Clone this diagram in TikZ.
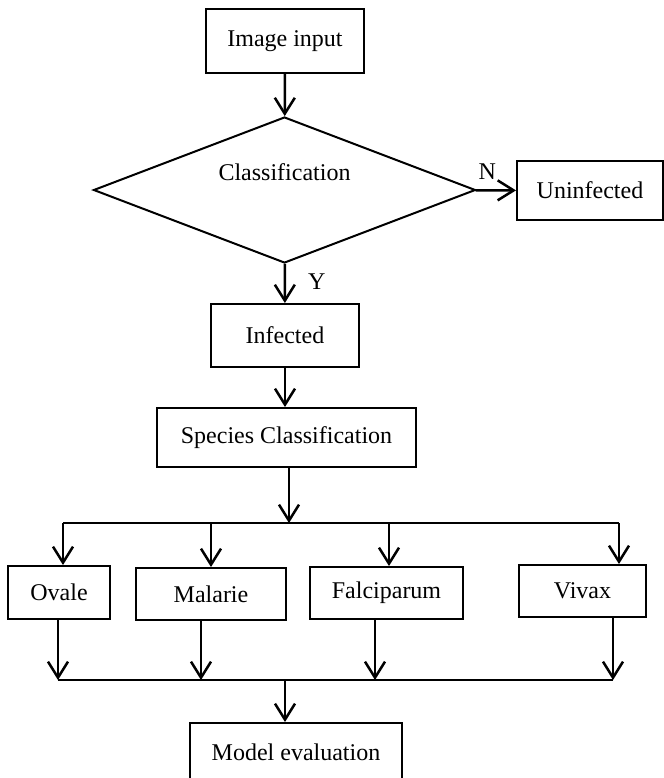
\documentclass[tikz,border=0pt]{standalone}
\usepackage{fontspec}
\setmainfont{Liberation Serif}
\usetikzlibrary{shapes.geometric,arrows.meta}

\begin{document}
\begin{tikzpicture}[x=0.5pt,y=-0.5pt,
    every node/.style={font=\fontsize{12}{14}\selectfont},
    box/.style={draw,line width=1pt,inner sep=0pt},
    decision/.style={draw,diamond,line width=1pt,inner sep=0pt,minimum width=191pt,minimum height=73pt},
    flow/.style={line width=1.25pt,-{Straight Barb[length=8pt,width=10pt,line width=1.25pt]}},
    link/.style={line width=1.25pt},
    tag/.style={inner sep=0pt}]
  \useasboundingbox (0,0) rectangle (664,778);

  \node[box,minimum width=79pt,minimum height=32pt] (img) at (285,41) {Image input};
  \node[decision,label={[yshift=9pt]center:Classification}] (cls) at (284.5,190) {};
  \node[box,minimum width=73pt,minimum height=29.5pt] (unf) at (590,190.5) {Uninfected};
  \node[box,minimum width=74pt,minimum height=31.5pt] (inf) at (285,335.5) {Infected};
  \node[box,minimum width=129.5pt,minimum height=29.5pt] (spc) at (286.5,437.5) {Species Classification};

  \node[box,minimum width=51pt,minimum height=26.5pt] (ovl) at (59,592.5) {Ovale};
  \node[box,minimum width=75pt,minimum height=26pt] (mal) at (211,594) {Malarie};
  \node[box,minimum width=76.5pt,minimum height=26pt] (fal) at (386.5,593) {Falciparum};
  \node[box,minimum width=63.5pt,minimum height=26pt] (viv) at (582.5,591) {Vivax};

  \node[box,minimum width=106pt,minimum height=29.5pt] (evl) at (296,752.5) {Model evaluation};

  \coordinate (fork) at (289,523);
  \coordinate (b1) at (63,523);
  \coordinate (b2) at (211,523);
  \coordinate (b3) at (389,523);
  \coordinate (b4) at (619,523);

  \coordinate (join) at (285,680);
  \coordinate (j1) at (58,680);
  \coordinate (j2) at (201,680);
  \coordinate (j3) at (375,680);
  \coordinate (j4) at (613,680);

  \draw[flow] (img) -- (cls);
  \draw[flow] (cls) -- node[tag,pos=0.29,above=5pt] {N} (unf);
  \draw[flow] (cls) -- node[tag,pos=0.46,right=11pt] {Y} (inf);
  \draw[flow] (inf.south) -- (inf.south |- spc.north);
  \draw[flow] (spc.south -| fork) -- (fork);

  \draw[link] (b1) -- (b4);
  \foreach \n/\c in {ovl/b1,mal/b2,fal/b3,viv/b4}
    \draw[flow] (\c) -- (\c |- \n.north);

  \foreach \n/\c in {ovl/j1,mal/j2,fal/j3,viv/j4}
    \draw[flow] (\n.south -| \c) -- (\c);
  \draw[link] (j1) -- (j4);
  \draw[flow] (join) -- (join |- evl.north);
\end{tikzpicture}
\end{document}
